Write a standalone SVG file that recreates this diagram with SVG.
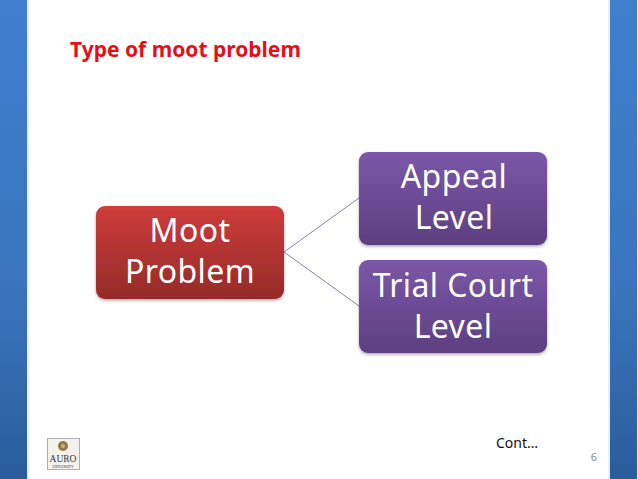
<svg xmlns="http://www.w3.org/2000/svg" width="638" height="479" viewBox="0 0 638 479">
<style>
.band{fill:url(#bandG)}
.glow{fill:#e8f0f9}
.node{stroke:none;filter:url(#sh)}
.nt{font-family:"Noto Sans","Liberation Sans",sans-serif;font-size:32px;letter-spacing:0.4px;fill:#fff;text-anchor:middle}
.link{stroke:#8080ac;stroke-width:1;fill:none}
</style>
<defs>
<linearGradient id="bandG" x1="0" y1="0" x2="0" y2="1"><stop offset="0" stop-color="#3f7fce"/><stop offset="0.6" stop-color="#3a75bd"/><stop offset="1" stop-color="#2a5c9c"/></linearGradient>
<linearGradient id="red" x1="0" y1="0" x2="0" y2="1"><stop offset="0" stop-color="#cd3c3a"/><stop offset="1" stop-color="#952b2a"/></linearGradient>
<linearGradient id="pur" x1="0" y1="0" x2="0" y2="1"><stop offset="0" stop-color="#7b57a8"/><stop offset="1" stop-color="#5d3f80"/></linearGradient>
<filter id="sh" x="-10%" y="-15%" width="120%" height="130%"><feDropShadow dx="0" dy="1.5" stdDeviation="1.5" flood-color="#000" flood-opacity="0.35"/></filter>
</defs>
<rect width="638" height="479" fill="#fff"/>
<rect class="glow" x="27" y="0" width="2" height="479"/>
<rect class="glow" x="608" y="0" width="2" height="479"/>
<rect class="glow" x="637" y="0" width="1" height="479"/>
<rect id="band-left" class="band" x="0" y="0" width="27" height="479"/>
<rect id="band-right" class="band" x="610" y="0" width="27" height="479"/>
<text id="title" x="70" y="57" font-family="'Noto Sans','Liberation Sans',sans-serif" font-weight="700" font-size="21px" fill="#e3101a">Type of moot problem</text>
<g id="connectors">
<line class="link" x1="284" y1="252" x2="359" y2="198"/>
<line class="link" x1="284" y1="252" x2="359" y2="306"/>
</g>
<g id="node-moot">
<rect class="node" x="96" y="206" width="188" height="93" rx="9" fill="url(#red)"/>
<text class="nt" x="190" y="242">Moot</text>
<text class="nt" x="190" y="283">Problem</text>
</g>
<g id="node-appeal">
<rect class="node" x="359" y="152" width="188" height="93" rx="9" fill="url(#pur)"/>
<text class="nt" x="454" y="188">Appeal</text>
<text class="nt" x="454" y="229">Level</text>
</g>
<g id="node-trial">
<rect class="node" x="359" y="260" width="188" height="93" rx="9" fill="url(#pur)"/>
<text class="nt" x="453" y="297">Trial Court</text>
<text class="nt" x="453" y="338">Level</text>
</g>
<text id="cont" x="496" y="448" font-family="'Noto Sans','Liberation Sans',sans-serif" font-size="14px" fill="#111">Cont…</text>
<text id="page" x="597" y="461" font-family="'Noto Sans','Liberation Sans',sans-serif" font-size="11px" fill="#8a8a8a" text-anchor="end">6</text>
<g id="logo">
<rect x="47.500" y="438.500" width="32" height="31" fill="#f4f2ea" stroke="#a9aeb8"/>
<circle cx="63" cy="446" r="5" fill="#8d7a45"/>
<circle cx="63" cy="446" r="2" fill="#c9b77a"/>
<text x="63" y="462" font-family="'Liberation Serif',serif" font-size="9.500px" fill="#2c3550" text-anchor="middle">AURO</text>
<text x="63" y="467.500" font-family="'Liberation Serif',serif" font-size="3.500px" fill="#2c3550" text-anchor="middle">UNIVERSITY</text>
</g>
</svg>
